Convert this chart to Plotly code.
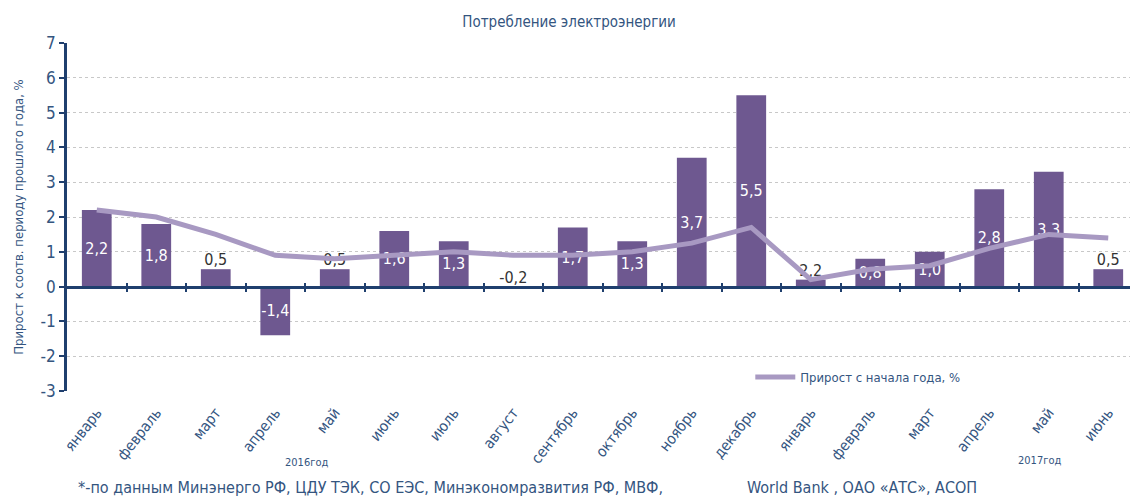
import plotly.graph_objects as go

months = ["январь", "февраль", "март", "апрель", "май", "июнь", "июль", "август",
          "сентябрь", "октябрь", "ноябрь", "декабрь",
          "январь", "февраль", "март", "апрель", "май", "июнь"]
bar_values = [2.2, 1.8, 0.5, -1.4, 0.5, 1.6, 1.3, -0.02, 1.7, 1.3, 3.7, 5.5,
              0.2, 0.8, 1.0, 2.8, 3.3, 0.5]
bar_labels = ["2,2", "1,8", "0,5", "-1,4", "0,5", "1,6", "1,3", "-0,2", "1,7", "1,3", "3,7", "5,5",
              "2,2", "0,8", "1,0", "2,8", "3,3", "0,5"]
label_inside = [True, True, False, True, False, True, True, False, True, True, True, True,
                False, True, True, True, True, False]
ytd_values = [2.2, 2.0, 1.5, 0.9, 0.8, 0.9, 1.0, 0.9, 0.9, 1.0, 1.25, 1.7,
              0.2, 0.5, 0.6, 1.1, 1.5, 1.4]
y_ticks = [-3, -2, -1, 0, 1, 2, 3, 4, 5, 6, 7]
y_tick_labels = ["-3", "-2", "-1", "0", "1", "2", "3", "4", "5", "6", "7"]
years = ["2016год", "2017год"]

FONT = "DejaVu Sans Condensed, Liberation Sans Narrow, sans-serif"
NAVY = "#1f3f6e"
TXT = "#34557f"
BAR = "#6e5890"
LINE = "#a899c2"

# page body has an 8px margin: figure is sized/offset to compensate
W, H = 1130, 488

x = list(range(len(months)))

fig = go.Figure()
fig.add_trace(go.Bar(
    x=x, y=bar_values, marker=dict(color=BAR, line=dict(width=0)), width=0.5,
    text=[t if ins else "" for t, ins in zip(bar_labels, label_inside)],
    textposition="inside", insidetextanchor="middle", constraintext="none",
    textangle=0,
    textfont=dict(color="white", size=16, family=FONT), showlegend=False,
    hoverinfo="skip",
))
out_x = [xi for xi, ins in zip(x, label_inside) if not ins]
out_y = [max(v, 0) for v, ins in zip(bar_values, label_inside) if not ins]
out_t = [t for t, ins in zip(bar_labels, label_inside) if not ins]
fig.add_trace(go.Scatter(
    x=out_x, y=out_y, mode="text", text=out_t, textposition="top center",
    textfont=dict(color="#333333", size=16, family=FONT), showlegend=False,
    hoverinfo="skip",
))
fig.add_trace(go.Scatter(
    x=x, y=ytd_values, mode="lines", name="Прирост с начала года, %",
    line=dict(color=LINE, width=5),
))
# zero-line axis with boundary ticks
fig.add_trace(go.Scatter(x=[0], y=[0], xaxis="x2", mode="markers",
                         marker=dict(opacity=0), showlegend=False, hoverinfo="skip"))
fig.add_trace(go.Scatter(x=[0], y=[0], xaxis="x3", mode="markers",
                         marker=dict(opacity=0), showlegend=False, hoverinfo="skip"))

bounds = [i + 0.5 for i in range(len(months) - 1)]
fig.update_layout(
    width=W, height=H,
    margin=dict(l=59, r=0, t=35, b=105),
    paper_bgcolor="white", plot_bgcolor="white",
    font=dict(family=FONT, color=TXT),
    title=dict(text="Потребление электроэнергии", x=0.4965, xanchor="center",
               y=1 - 14 / H, yanchor="middle", font=dict(size=15, color=TXT, family=FONT)),
    xaxis=dict(range=[-0.5, 17.5], tickvals=x, ticktext=months, tickangle=-52,
               showgrid=False, zeroline=False, showline=False, ticks="",
               automargin=False, ticklabelstandoff=9,
               tickfont=dict(size=15, color=TXT, family=FONT)),
    xaxis2=dict(overlaying="x", anchor="free", position=0.3, side="bottom",
                range=[-0.5, 17.5], tickvals=bounds, showticklabels=False,
                ticks="outside", ticklen=4, tickwidth=1.5, tickcolor=NAVY, automargin=False,
                showline=True, linecolor=NAVY, linewidth=2.5, showgrid=False, zeroline=False),
    xaxis3=dict(overlaying="x", anchor="free", position=0.3, side="top",
                range=[-0.5, 17.5], tickvals=bounds, showticklabels=False,
                ticks="outside", ticklen=4, tickwidth=1.5, tickcolor=NAVY, automargin=False,
                showline=False, showgrid=False, zeroline=False),
    yaxis=dict(range=[-3, 7], tickvals=y_ticks, ticktext=y_tick_labels,
               showgrid=True, gridcolor="#c8c8c8",
               griddash="dot", gridwidth=1, zeroline=False, automargin=False,
               showline=True, linecolor=NAVY, linewidth=2.5,
               ticks="outside", ticklen=5, tickcolor=NAVY, tickwidth=1.5,
               tickfont=dict(size=17, color=TXT, family=FONT),
               title=dict(text="Прирост к соотв. периоду прошлого года, %",
                          font=dict(size=13, color=TXT, family=FONT), standoff=15)),
    legend=dict(x=0.638, y=0.04, xanchor="left", yanchor="middle",
                bgcolor="rgba(0,0,0,0)", font=dict(size=13, color=TXT, family=FONT),
                itemwidth=40),
    bargap=0.5,
)
fig.add_annotation(text=years[0], x=3.53, xref="x", y=-80 / 348, yref="paper",
                   showarrow=False, font=dict(size=11, color=TXT, family=FONT))
fig.add_annotation(text=years[1], x=15.85, xref="x", y=-78 / 348, yref="paper",
                   showarrow=False, font=dict(size=11, color=TXT, family=FONT))
fig.add_annotation(text="*-по данным Минэнерго РФ, ЦДУ ТЭК, СО ЕЭС, Минэкономразвития РФ, МВФ,",
                   x=(76 - 67) / 1071, xref="paper", y=-0.31, yref="paper", showarrow=False,
                   xanchor="left", font=dict(size=16, color=TXT, family=FONT))
fig.add_annotation(text="World Bank , ОАО «АТС», АСОП",
                   x=(745 - 67) / 1071, xref="paper", y=-0.31, yref="paper", showarrow=False,
                   xanchor="left", font=dict(size=16, color=TXT, family=FONT))

fig.write_html("out.html")
